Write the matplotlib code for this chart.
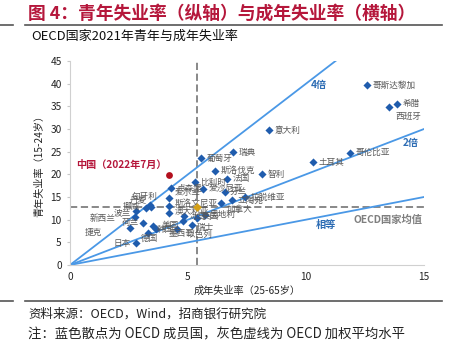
import matplotlib
matplotlib.use("Agg")
import matplotlib.pyplot as plt
import numpy as np

plt.rcParams['font.family'] = ['Noto Sans CJK SC', 'DejaVu Sans']

# OECD members, 2021: adult (25-65) vs youth (15-24) unemployment, %
countries = ['哥斯达黎加', '希腊', '西班牙', '意大利', '哥伦比亚', '土耳其', '智利',
             '瑞典', '葡萄牙', '斯洛伐克', '比利时', '法国', '爱沙尼亚', '芬兰',
             '拉脱维亚', '立陶宛', '加拿大', '奥地利', '卢森堡', '爱尔兰', '斯洛文尼亚',
             '匈牙利', '挪威', '波兰', '新西兰', '捷克', '日本', '德国', '墨西哥',
             '以色列', '瑞士', '英国', '美国', '荷兰', '韩国', '丹麦', '澳大利亚', '冰岛']
adult = [12.6, 13.85, 13.5, 8.45, 11.85, 10.3, 8.15,
         6.9, 5.55, 6.15, 5.3, 6.65, 5.65, 6.55,
         7.4, 6.85, 6.4, 5.7, 4.3, 4.2, 4.2,
         3.4, 3.2, 2.8, 2.75, 2.55, 2.8, 3.3, 3.65,
         4.55, 5.15, 5.4, 4.8, 3.1, 3.5, 3.45, 4.2, 4.85]
youth = [39.6, 35.6, 34.9, 29.7, 24.8, 22.7, 20.0,
         24.9, 23.5, 20.8, 18.3, 19.0, 16.8, 16.2,
         14.9, 14.3, 13.6, 11.1, 16.9, 14.8, 13.0,
         13.3, 12.6, 11.9, 10.5, 8.2, 4.8, 7.1, 7.9,
         7.9, 8.8, 10.3, 9.6, 9.3, 8.7, 12.9, 11.4, 10.7]

china_adult, china_youth = 4.2, 19.9
oecd_adult, oecd_youth = 5.4, 12.8

ratios = [4, 2, 1]
ratio_labels = ['4倍', '2倍', '相等']

# label offsets in points (dx, dy, ha)
offsets = {
    '西班牙': (14, -7, 'center'), '匈牙利': (-4, 6, 'center'), '挪威': (-4, 1, 'right'),
    '波兰': (-4, -1, 'right'), '新西兰': (-14, -1, 'right'), '捷克': (-20, -3, 'right'),
    '日本': (-4, 0, 'right'), '德国': (1, -4, 'center'), '墨西哥': (9, -3, 'left'),
    '以色列': (6, -4, 'left'), '瑞士': (4, -2, 'left'), '英国': (3, 1, 'left'),
    '美国': (-3, -3, 'right'), '荷兰': (-3, 0, 'right'), '韩国': (3, -3, 'left'),
    '丹麦': (-3, 4, 'right'), '澳大利亚': (4, 1, 'left'), '冰岛': (4, 0, 'left'),
    '加拿大': (4, -4, 'left'), '爱尔兰': (4, 4, 'left'), '斯洛文尼亚': (4, 2, 'left'),
}

fig = plt.figure(figsize=(4.53, 3.46), dpi=100)
W, H = 453, 346

def px(x, y):
    return x / W, 1 - y / H

red = '#B5173B'
fig.text(*px(28, 14), '图 4：青年失业率（纵轴）与成年失业率（横轴）', color=red,
         fontsize=12.8, fontweight='bold', va='center', ha='left')
for yy in (24.5, 301):
    fig.add_artist(plt.Line2D([0, 13 / W], [1 - yy / H] * 2, color='#555555', lw=1.2))
    fig.add_artist(plt.Line2D([25 / W, 442 / W], [1 - yy / H] * 2, color='#555555', lw=1.2))
fig.text(*px(31, 36), 'OECD国家2021年青年与成年失业率', fontsize=9.4, va='center', color='#111111')
fig.text(*px(28, 314), '资料来源：OECD，Wind，招商银行研究院', fontsize=9, va='center', color='#222222')
fig.text(*px(28, 334), '注：蓝色散点为 OECD 成员国，灰色虚线为 OECD 加权平均水平', fontsize=9.6,
         va='center', color='#222222')

ax = fig.add_axes([70 / W, 1 - 265 / H, (424 - 70) / W, (265 - 61) / H])
ax.set_xlim(0, 15)
ax.set_ylim(0, 45)
for s in ('top', 'right'):
    ax.spines[s].set_visible(False)
for s in ('left', 'bottom'):
    ax.spines[s].set_color('#D0D0D0')
ax.set_xticks([0, 5, 10, 15])
ax.set_yticks(np.arange(0, 46, 5))
ax.tick_params(axis='both', labelsize=7.3, color='#C8C8C8', length=2.5, labelcolor='#222222')
ax.tick_params(axis='x', length=0, pad=5)
ax.set_xlabel('成年失业率（25-65岁）', fontsize=7.3, labelpad=3, color='#222222')
ax.set_ylabel('青年失业率（15-24岁）', fontsize=7.3, labelpad=4, color='#222222')

line_blue = '#4A98E6'
xs = np.array([0, 15])
for r in ratios:
    ax.plot(xs, r * xs, color=line_blue, lw=1.3, clip_on=True, zorder=2)
ax.text(10.55, 39.6, ratio_labels[0], color='#2E6DB4', fontsize=7.3, fontweight='bold', ha='center', va='center')
ax.text(14.45, 27.0, ratio_labels[1], color='#2E6DB4', fontsize=7.3, fontweight='bold', ha='center', va='center')
ax.text(10.85, 8.8, ratio_labels[2], color='#2E6DB4', fontsize=7.3, fontweight='bold', ha='center', va='center')

ax.axhline(oecd_youth, color='#7F7F7F', lw=1.3, ls=(0, (4, 2)), zorder=1)
ax.axvline(oecd_adult, color='#7F7F7F', lw=1.3, ls=(0, (4, 2)), zorder=1)
ax.text(14.95, oecd_youth - 1.6, 'OECD国家均值', color='#7F7F7F', fontsize=7.4, fontweight='bold',
        ha='right', va='top')

ax.scatter(adult, youth, marker='D', s=17, color='#1F5CAD', zorder=4, linewidths=0)
for name, x, y in zip(countries, adult, youth):
    dx, dy, ha = offsets.get(name, (4, 0, 'left'))
    ax.annotate(name, (x, y), xytext=(dx, dy), textcoords='offset points', fontsize=6.2,
                color='#595959', ha=ha, va='center', zorder=5)

ax.scatter([oecd_adult], [oecd_youth], marker='D', s=20, color='#D4A017', zorder=6, linewidths=0)
ax.scatter([china_adult], [china_youth], marker='o', s=24, color='#B3101E', zorder=6, linewidths=0)
ax.annotate('中国（2022年7月）', (china_adult, china_youth), xytext=(-2, 7),
            textcoords='offset points', color=red, fontsize=7.3, fontweight='bold',
            ha='right', va='center')

fig.savefig('out.png', dpi=100)
